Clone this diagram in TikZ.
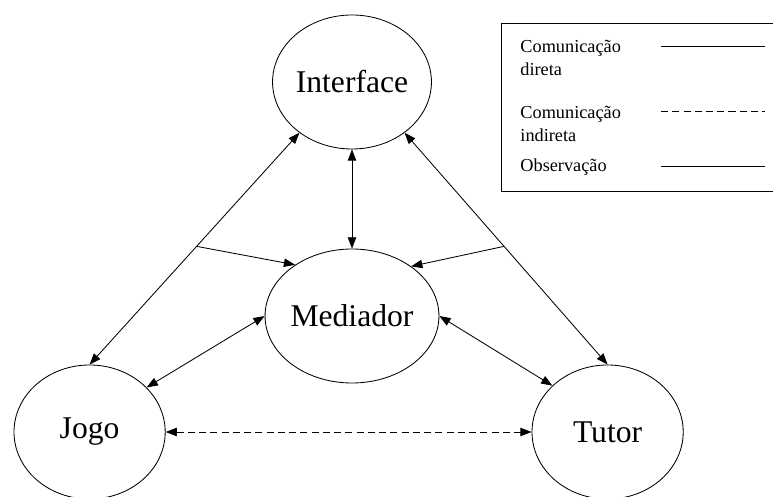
\documentclass[tikz,border=0pt]{standalone}
\usepackage{fontspec}
\setmainfont{Liberation Serif}
\usetikzlibrary{shapes.geometric, arrows.meta}

\begin{document}
\begin{tikzpicture}[line width=0.6pt,
    agent/.style={draw, ellipse, minimum width=3.78cm, minimum height=3.35cm,
      inner sep=0pt, font=\fontsize{22.5}{27}\selectfont},
    link/.style={{Triangle[length=8pt, width=6pt]}-{Triangle[length=8pt, width=6pt]}},
    obs/.style={-{Triangle[length=8pt, width=6pt]}},
    indirect/.style={dash pattern=on 5pt off 3pt},
    legendtext/.style={anchor=west, align=left, inner sep=0pt,
      font=\fontsize{13}{16.4}\selectfont}]
  \useasboundingbox (-8.8, -4.525) rectangle (10.525, 7.9);

  \node[agent] (ifc) at (0, 5.85) {Interface};
  \node[agent] (med) at (0, 0) {Mediador};
  \node[agent] (jogo) at (-6.56, -2.9) {Jogo};
  \node[agent] (tutor) at (6.39, -2.9) {Tutor};

  \draw[link] (ifc.south) -- (med.north);
  \draw[link] (ifc.224) -- coordinate[pos=0.49] (obsL) (jogo.north);
  \draw[link] (ifc.316) -- coordinate[pos=0.49] (obsR) (tutor.north);
  \draw[link] (med.west) -- (jogo.38);
  \draw[link] (med.east) -- (tutor.140);
  \draw[link, indirect] (jogo.east) -- (tutor.west);

  \draw[obs] (obsL) -- (med.138);
  \draw[obs] (obsR) -- (med.40);

  \draw (10.525, 7.325) -- (3.725, 7.325) -- (3.725, 3.125) -- (10.525, 3.125);
  \node[legendtext] (lgA) at (4.2, 6.45) {Comunicação\\direta};
  \node[legendtext] (lgB) at (4.2, 4.8) {Comunicação\\indireta};
  \node[legendtext] (lgC) at (4.2, 3.73) {Observação};
  \draw (7.725, 6.733) -- (10.325, 6.733);
  \draw[indirect] (7.725, 5.108) -- (10.325, 5.108);
  \draw (7.725, 3.733) -- (10.325, 3.733);
\end{tikzpicture}
\end{document}
